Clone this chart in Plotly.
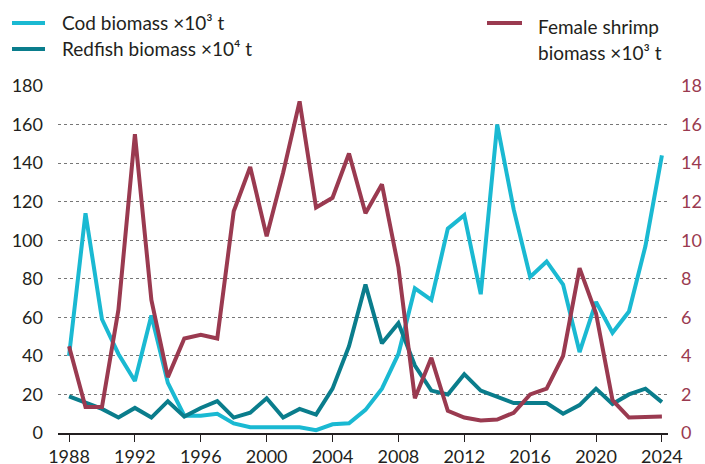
import plotly.graph_objects as go

years = list(range(1988, 2025))

cod = [40, 114, 59, 41, 27, 61, 26, 9, 9, 10, 5, 3, 3, 3, 3, 1.5, 4.5, 5, 12, 23,
       41, 75, 69, 106, 113, 72, 160, 116, 81, 89, 77, 42, 68, 52, 63, 97, 144]

redfish = [19, 16, 12.5, 8, 13, 8, 16.5, 8.5, 13, 16.5, 8, 10.5, 18, 8, 12.5, 9.5, 23, 45,
           77, 46.5, 57, 35, 22, 20, 30.5, 22, 18.5, 15.5, 15.5, 15.5, 10, 14.5, 23, 15, 20, 23, 16]

shrimp = [4.5, 1.35, 1.35, 6.4, 15.5, 6.9, 2.9, 4.9, 5.1, 4.9, 11.5, 13.8, 10.2, 13.5, 17.2,
          11.7, 12.2, 14.5, 11.4, 12.9, 8.6, 1.8, 3.9, 1.15, 0.8, 0.65, 0.7, 1.05, 2.0, 2.3,
          4.0, 8.55, 6.2, 1.7, 0.8, 0.8, 0.85]

left_ticks = [0, 20, 40, 60, 80, 100, 120, 140, 160, 180]
right_ticks = [0, 2, 4, 6, 8, 10, 12, 14, 16, 18]
x_ticks = [1988, 1992, 1996, 2000, 2004, 2008, 2012, 2016, 2020, 2024]

COD = "#1ab9d2"
RED = "#0a7d8c"
SHR = "#9a3a50"
FONT = "Lato"

fig = go.Figure()
fig.add_trace(go.Scatter(x=years, y=cod, mode="lines", line=dict(color=COD, width=4),
                         name="Cod", showlegend=False))
fig.add_trace(go.Scatter(x=years, y=shrimp, mode="lines", line=dict(color=SHR, width=4),
                         name="Shrimp", yaxis="y2", showlegend=False))
fig.add_trace(go.Scatter(x=years, y=redfish, mode="lines", line=dict(color=RED, width=4),
                         name="Redfish", showlegend=False))

fig.update_layout(
    width=705, height=464,
    margin=dict(l=58, r=37, t=86, b=31),
    paper_bgcolor="white", plot_bgcolor="white",
    font=dict(family=FONT, size=18, color="#231f20"),
    xaxis=dict(range=[1987.33, 2024.37], tickvals=x_ticks, ticks="outside", ticklen=7,
               tickcolor="#231f20", showline=True, linecolor="#231f20", linewidth=1.5,
               showgrid=False, zeroline=False, tickfont=dict(size=18), automargin=False,
               ticklabelstandoff=0),
    yaxis=dict(range=[0, 180], tickvals=left_ticks, showgrid=True, gridcolor="#777777",
               griddash="dot", gridwidth=1, zeroline=False, showline=False, ticks="",
               ticklabelstandoff=14, tickfont=dict(size=18, color="#231f20"), automargin=False),
    yaxis2=dict(range=[0, 18], tickvals=right_ticks, overlaying="y", side="right",
                showgrid=False, zeroline=False, showline=False, ticks="",
                ticklabelstandoff=12, tickfont=dict(size=18, color=SHR), automargin=False),
)

W, H = 705 - 58 - 37, 464 - 86 - 31
def px(x):
    return (x - 58) / W
def py(y):
    return (433 - y) / H

def leg_line(x0, x1, y, color):
    fig.add_shape(type="line", xref="paper", yref="paper",
                  x0=px(x0), x1=px(x1), y0=py(y), y1=py(y), line=dict(color=color, width=4))

leg_line(12, 45, 23, COD)
leg_line(12, 45, 49, RED)
leg_line(487, 522, 23, SHR)

def leg_text(x, y, t):
    fig.add_annotation(xref="paper", yref="paper", x=px(x), y=py(y), text=t,
                       showarrow=False, xanchor="left", yanchor="middle", borderpad=0,
                       font=dict(family=FONT, size=19, color="#231f20"))

leg_text(61, 23, "Cod biomass ×10³ t")
leg_text(61, 49, "Redfish biomass ×10⁴ t")
leg_text(537, 26, "Female shrimp")
leg_text(537, 52, "biomass ×10³ t")

fig.write_html("out.html", config={"displayModeBar": False},
               post_script="document.body.style.margin='0';document.body.style.overflow='hidden';")
